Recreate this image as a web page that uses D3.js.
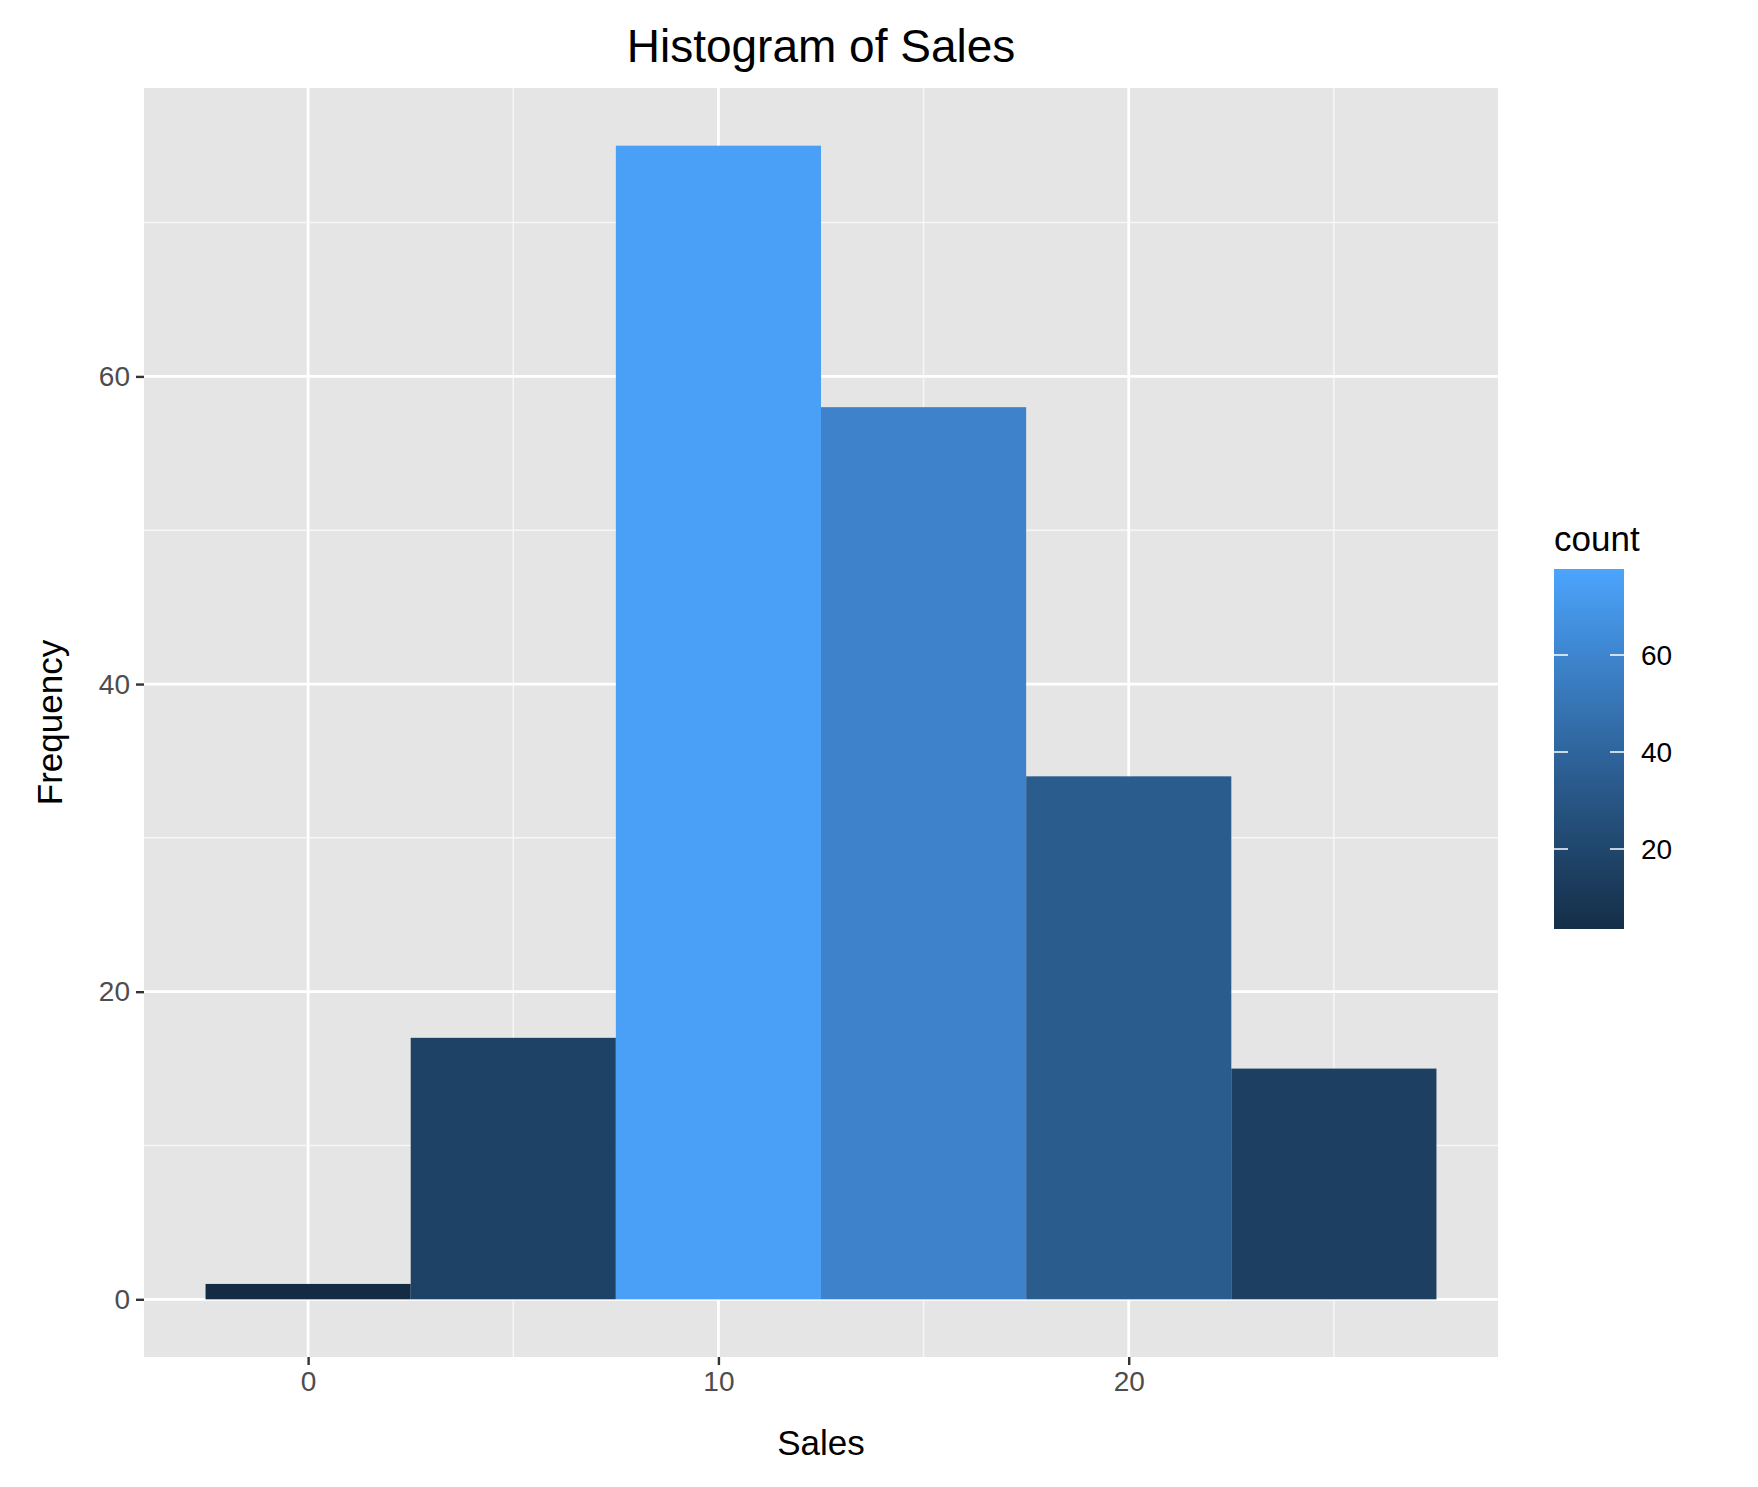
<!DOCTYPE html>
<html>
<head>
<meta charset="utf-8">
<script src="https://cdn.jsdelivr.net/npm/d3@7"></script>
<style>
  body { margin: 0; background: #fff; }
  text { font-family: "Liberation Sans", Arial, sans-serif; }
</style>
</head>
<body>
<div id="chart"></div>
<script>
// histogram bins (binwidth 5, centered on multiples of 5)
const binStarts = [-2.5, 2.5, 7.5, 12.5, 17.5, 22.5];
const binWidth = 5;
const counts = [1, 17, 75, 58, 34, 15];
const xTicks = [0, 10, 20];
const yTicks = [0, 20, 40, 60];
const legendTicks = [20, 40, 60];

const W = 1758, H = 1487;
const panel = { left: 144, right: 1498, top: 88, bottom: 1357 };

const svg = d3.select("#chart").append("svg")
  .attr("width", W).attr("height", H);

const x = d3.scaleLinear().domain([-4, 29]).range([panel.left, panel.right]);
const y = d3.scaleLinear().domain([-3.75, 78.75]).range([panel.bottom, panel.top]);
const color = d3.scaleLinear().domain([1, 75]).range(["#132B43", "#4A9FF6"])
  .interpolate(d3.interpolateLab);

svg.append("rect")
  .attr("x", panel.left).attr("y", panel.top)
  .attr("width", panel.right - panel.left).attr("height", panel.bottom - panel.top)
  .attr("fill", "#e5e5e5");

// minor grid
[5, 15, 25].forEach(v => svg.append("line")
  .attr("x1", x(v)).attr("x2", x(v)).attr("y1", panel.top).attr("y2", panel.bottom)
  .attr("stroke", "#f7f7f7").attr("stroke-width", 1.5));
[10, 30, 50, 70].forEach(v => svg.append("line")
  .attr("y1", y(v)).attr("y2", y(v)).attr("x1", panel.left).attr("x2", panel.right)
  .attr("stroke", "#f7f7f7").attr("stroke-width", 1.5));
// major grid
xTicks.forEach(v => svg.append("line")
  .attr("x1", x(v)).attr("x2", x(v)).attr("y1", panel.top).attr("y2", panel.bottom)
  .attr("stroke", "#fff").attr("stroke-width", 2.8));
yTicks.forEach(v => svg.append("line")
  .attr("y1", y(v)).attr("y2", y(v)).attr("x1", panel.left).attr("x2", panel.right)
  .attr("stroke", "#fff").attr("stroke-width", 2.8));

svg.selectAll(".bar")
  .data(counts)
  .join("rect")
  .attr("x", (d, i) => x(binStarts[i]))
  .attr("width", (d, i) => x(binStarts[i] + binWidth) - x(binStarts[i]))
  .attr("y", d => y(d))
  .attr("height", d => y(0) - y(d))
  .attr("fill", d => color(d));

// axes
const xAxis = svg.append("g")
  .attr("transform", "translate(0," + panel.bottom + ")")
  .call(d3.axisBottom(x).tickValues(xTicks).tickSize(8).tickPadding(6));
const yAxis = svg.append("g")
  .attr("transform", "translate(" + panel.left + ",0)")
  .call(d3.axisLeft(y).tickValues(yTicks).tickSize(8).tickPadding(6));
[xAxis, yAxis].forEach(a => {
  a.select(".domain").remove();
  a.selectAll("line").attr("stroke", "#333").attr("stroke-width", 2.4);
  a.selectAll("text").attr("fill", "#4d4d4d").style("font-size", "28px");
});

svg.append("text").attr("x", (panel.left + panel.right) / 2).attr("y", 62)
  .attr("text-anchor", "middle").style("font-size", "46px").text("Histogram of Sales");
svg.append("text").attr("x", (panel.left + panel.right) / 2).attr("y", 1455)
  .attr("text-anchor", "middle").style("font-size", "35px").text("Sales");
svg.append("text").attr("transform", "translate(62," + (panel.top + panel.bottom) / 2 + ") rotate(-90)")
  .attr("text-anchor", "middle").style("font-size", "35px").text("Frequency");

// legend
const lg = { x: 1554, w: 70, top: 569, bottom: 929 };
const grad = svg.append("defs").append("linearGradient")
  .attr("id", "cg").attr("x1", 0).attr("x2", 0).attr("y1", 1).attr("y2", 0);
d3.range(0, 1.001, 0.1).forEach(t => grad.append("stop")
  .attr("offset", t).attr("stop-color", color(3.5 + t * (77.7 - 3.5))));
const ly = d3.scaleLinear().domain([20, 60]).range([849, 655]);
svg.append("rect").attr("x", lg.x).attr("y", lg.top)
  .attr("width", lg.w).attr("height", lg.bottom - lg.top).attr("fill", "url(#cg)");
legendTicks.forEach(v => {
  [[lg.x, lg.x + 14], [lg.x + lg.w - 14, lg.x + lg.w]].forEach(([a, b]) =>
    svg.append("line").attr("x1", a).attr("x2", b).attr("y1", ly(v)).attr("y2", ly(v))
      .attr("stroke", "#fff").attr("stroke-width", 1.5));
  svg.append("text").attr("x", lg.x + lg.w + 17).attr("y", ly(v)).attr("dy", "0.35em")
    .style("font-size", "28px").text(v);
});
svg.append("text").attr("x", lg.x).attr("y", 551).style("font-size", "35px").text("count");
</script>
</body>
</html>
